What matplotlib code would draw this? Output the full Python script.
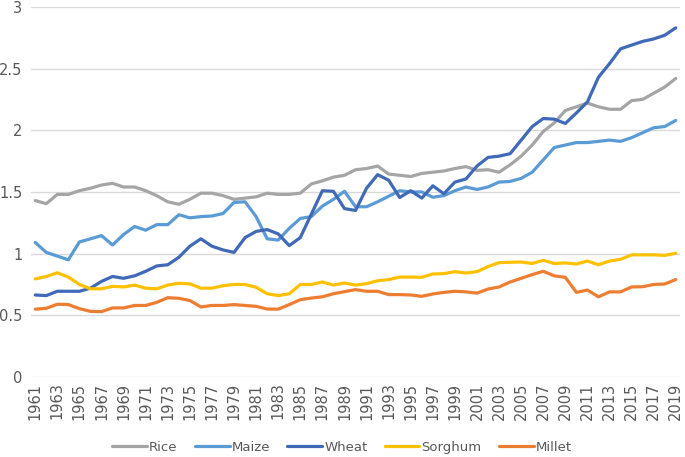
import numpy as np
import matplotlib
matplotlib.use('Agg')
import matplotlib.pyplot as plt

plt.rcParams['font.family'] = ['Liberation Sans Narrow', 'DejaVu Sans']

# Years and yield series (t/ha)
years = np.arange(1961, 2020)

rice = [1.43, 1.405, 1.48, 1.48, 1.51, 1.53, 1.556, 1.57, 1.54, 1.54,
        1.51, 1.47, 1.42, 1.40, 1.44, 1.49, 1.49, 1.47, 1.44, 1.45,
        1.46, 1.49, 1.48, 1.48, 1.49, 1.565, 1.59, 1.62, 1.635, 1.68,
        1.69, 1.71, 1.645, 1.635, 1.625, 1.65, 1.66, 1.67, 1.69, 1.705,
        1.675, 1.68, 1.66, 1.72, 1.79, 1.88, 1.99, 2.06, 2.16, 2.19,
        2.22, 2.19, 2.17, 2.17, 2.24, 2.25, 2.30, 2.35, 2.42]

maize = [1.09, 1.01, 0.98, 0.95, 1.095, 1.12, 1.146, 1.07, 1.155, 1.22,
         1.19, 1.235, 1.235, 1.315, 1.29, 1.30, 1.305, 1.325, 1.415, 1.42,
         1.30, 1.12, 1.11, 1.205, 1.285, 1.30, 1.385, 1.44, 1.505, 1.38,
         1.38, 1.42, 1.465, 1.51, 1.50, 1.50, 1.457, 1.47, 1.51, 1.54,
         1.52, 1.54, 1.58, 1.585, 1.61, 1.66, 1.76, 1.86, 1.88, 1.90,
         1.90, 1.91, 1.92, 1.91, 1.94, 1.98, 2.02, 2.03, 2.08]

wheat = [0.665, 0.66, 0.695, 0.695, 0.695, 0.72, 0.775, 0.815, 0.80, 0.82,
         0.857, 0.90, 0.91, 0.97, 1.06, 1.12, 1.06, 1.03, 1.01, 1.13,
         1.18, 1.195, 1.16, 1.065, 1.13, 1.32, 1.51, 1.505, 1.365, 1.35,
         1.53, 1.64, 1.595, 1.455, 1.51, 1.45, 1.55, 1.485, 1.58, 1.605,
         1.71, 1.78, 1.79, 1.81, 1.92, 2.03, 2.095, 2.09, 2.055, 2.14,
         2.23, 2.43, 2.54, 2.66, 2.69, 2.72, 2.74, 2.77, 2.83]

sorghum = [0.795, 0.815, 0.845, 0.81, 0.75, 0.715, 0.715, 0.735, 0.73, 0.745,
           0.72, 0.715, 0.745, 0.76, 0.755, 0.72, 0.72, 0.74, 0.75, 0.75,
           0.727, 0.675, 0.66, 0.675, 0.75, 0.75, 0.77, 0.745, 0.762, 0.745,
           0.757, 0.78, 0.79, 0.81, 0.81, 0.808, 0.835, 0.838, 0.854, 0.843,
           0.854, 0.895, 0.927, 0.93, 0.932, 0.92, 0.946, 0.92, 0.925, 0.916,
           0.94, 0.91, 0.94, 0.954, 0.99, 0.99, 0.99, 0.986, 1.003]

millet = [0.55, 0.557, 0.59, 0.587, 0.554, 0.532, 0.53, 0.56, 0.56, 0.58,
          0.58, 0.605, 0.643, 0.638, 0.62, 0.568, 0.58, 0.58, 0.587, 0.58,
          0.573, 0.551, 0.55, 0.587, 0.627, 0.64, 0.65, 0.675, 0.692, 0.708,
          0.695, 0.695, 0.668, 0.668, 0.665, 0.654, 0.673, 0.686, 0.695, 0.69,
          0.68, 0.713, 0.73, 0.77, 0.80, 0.83, 0.857, 0.82, 0.808, 0.686,
          0.705, 0.65, 0.69, 0.69, 0.73, 0.732, 0.75, 0.754, 0.79]

series = [('Rice', rice, '#A5A5A5'),
          ('Maize', maize, '#5B9BD5'),
          ('Wheat', wheat, '#4069B8'),
          ('Sorghum', sorghum, '#FFC000'),
          ('Millet', millet, '#ED7D31')]

fig = plt.figure(figsize=(6.85, 4.57), dpi=100)
ax = fig.add_axes([0.045, 0.175, 0.948, 0.81])

for name, vals, col in series:
    ax.plot(years, vals, color=col, lw=2.3, label=name, solid_capstyle='round')

ax.set_xlim(1960.6, 2019.4)
ax.set_ylim(0, 3)
ax.set_yticks(np.arange(0, 3.01, 0.5))
ax.set_yticklabels(['0', '0.5', '1', '1.5', '2', '2.5', '3'])
ax.set_xticks(years[::2])
ax.set_xticklabels([str(y) for y in years[::2]], rotation=90)

ax.grid(axis='y', color='#D9D9D9', lw=1)
ax.set_axisbelow(True)
for s in ax.spines.values():
    s.set_visible(False)
ax.tick_params(length=0, colors='#595959', labelsize=10.5)
ax.tick_params(axis='y', pad=6)
ax.tick_params(axis='x', pad=4)

ax.legend(loc='center', bbox_to_anchor=(0.479, -0.19), ncol=5, frameon=False,
          fontsize=9.5, handlelength=2.65, handletextpad=0.15, columnspacing=1.3,
          labelcolor='#595959')

fig.savefig('out.png', dpi=100)
